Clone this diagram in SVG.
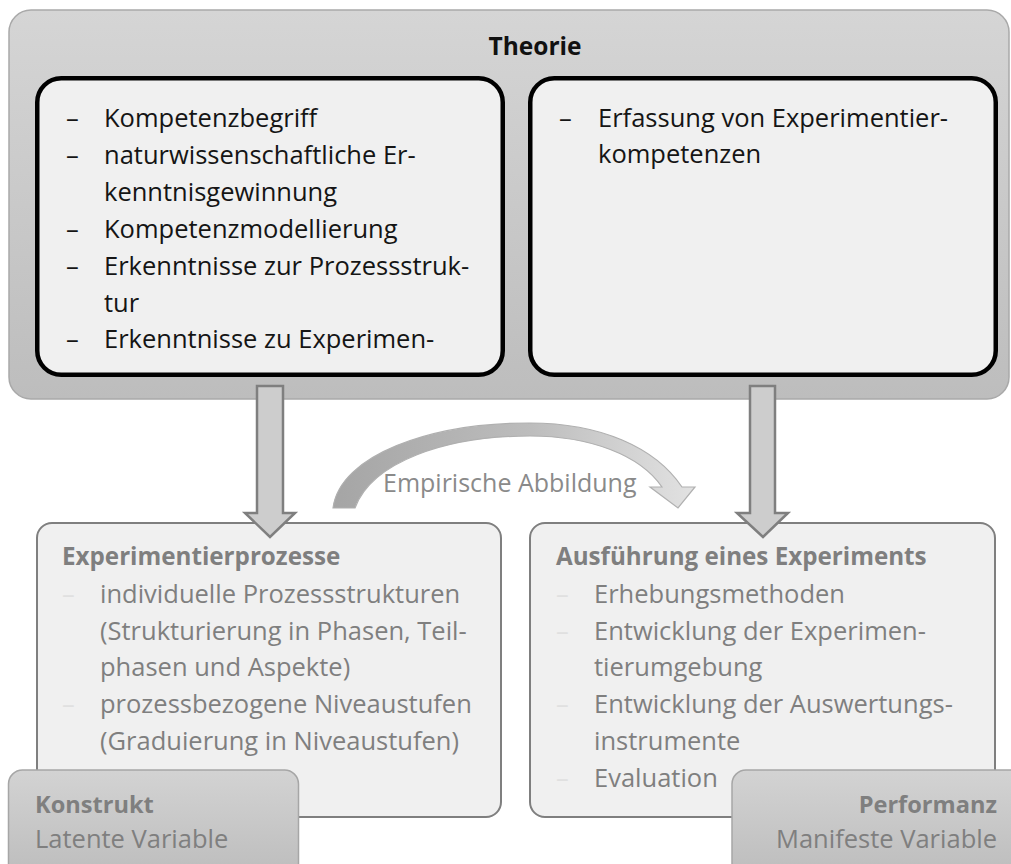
<svg xmlns="http://www.w3.org/2000/svg" width="1011" height="864" viewBox="0 0 1011 864">
  <defs>
    <linearGradient id="gPanel" x1="0" y1="0" x2="0" y2="1">
      <stop offset="0" stop-color="#d5d5d5"/>
      <stop offset="1" stop-color="#bdbdbd"/>
    </linearGradient>
    <linearGradient id="gTag" x1="0" y1="0" x2="0" y2="1">
      <stop offset="0" stop-color="#d3d3d3"/>
      <stop offset="1" stop-color="#bcbcbc"/>
    </linearGradient>
    <linearGradient id="gCurve" x1="333" y1="0" x2="695" y2="0" gradientUnits="userSpaceOnUse">
      <stop offset="0" stop-color="#a5a5a5"/>
      <stop offset="0.55" stop-color="#bdbdbd"/>
      <stop offset="1" stop-color="#e2e2e2"/>
    </linearGradient>
  </defs>
  <style>
    text { font-family: "Open Sans", "Noto Sans", "Liberation Sans", sans-serif; }
    .title { font-size: 24.5px; font-weight: bold; fill: #111; }
    .item { font-size: 25.5px; fill: #151515; }
    .dash { font-size: 25.5px; fill: #151515; }
    .head { font-size: 24.2px; font-weight: bold; fill: #7f7f7f; }
    .thead { font-size: 23.6px; font-weight: bold; fill: #7f7f7f; }
    .gitem { font-size: 25.5px; fill: #7f7f7f; }
    .gdash { font-size: 25.5px; fill: #e0e0e0; }
    .panel { fill: url(#gPanel); stroke: #a9a9a9; stroke-width: 1.5; }
    .inner { fill: #f0f0f0; stroke: #000; stroke-width: 4.5; }
    .box { fill: #f0f0f0; stroke: #7f7f7f; stroke-width: 2; }
    .tag { fill: url(#gTag); stroke: #a6a6a6; stroke-width: 1.5; }
    .arrow { fill: #cdcdcd; stroke: #7f7f7f; stroke-width: 2.5; stroke-linejoin: miter; }
    .curve { fill: url(#gCurve); stroke: #b0b0b0; stroke-width: 1.2; }
    .clabel { font-size: 25px; fill: #8a8a8a; }
  </style>

  <!-- Theory panel with two content cards -->
  <g id="theorie">
    <rect class="panel" x="9" y="10" width="1000" height="389" rx="22"/>
    <text class="title" x="535" y="55" text-anchor="middle">Theorie</text>
  </g>

  <g id="theorie-links">
    <rect class="inner" x="37.25" y="78.25" width="465.5" height="296.5" rx="24"/>
    <text class="dash" x="66" y="127">–</text>
    <text class="item" x="104" y="127">Kompetenzbegriff</text>
    <text class="dash" x="66" y="164">–</text>
    <text class="item" x="104" y="164">naturwissenschaftliche Er-</text>
    <text class="item" x="104" y="201">kenntnisgewinnung</text>
    <text class="dash" x="66" y="238">–</text>
    <text class="item" x="104" y="238">Kompetenzmodellierung</text>
    <text class="dash" x="66" y="275">–</text>
    <text class="item" x="104" y="275">Erkenntnisse zur Prozessstruk-</text>
    <text class="item" x="104" y="312">tur</text>
    <text class="dash" x="66" y="348">–</text>
    <text class="item" x="104" y="348">Erkenntnisse zu Experimen-</text>
  </g>

  <g id="theorie-rechts">
    <rect class="inner" x="530.25" y="78.25" width="465.5" height="296.5" rx="24"/>
    <text class="dash" x="559" y="127">–</text>
    <text class="item" x="598" y="127">Erfassung von Experimentier-</text>
    <text class="item" x="598" y="163">kompetenzen</text>
  </g>

  <!-- Lower boxes -->
  <g id="experimentierprozesse">
    <rect class="box" x="37" y="523" width="464" height="294" rx="15"/>
    <text class="head" x="62" y="565">Experimentierprozesse</text>
    <text class="gdash" x="62" y="603">–</text>
    <text class="gitem" x="100" y="603">individuelle Prozessstrukturen</text>
    <text class="gitem" x="100" y="640">(Strukturierung in Phasen, Teil-</text>
    <text class="gitem" x="100" y="676">phasen und Aspekte)</text>
    <text class="gdash" x="62" y="713">–</text>
    <text class="gitem" x="100" y="713">prozessbezogene Niveaustufen</text>
    <text class="gitem" x="100" y="750">(Graduierung in Niveaustufen)</text>
  </g>

  <g id="ausfuehrung">
    <rect class="box" x="530" y="523" width="465" height="294" rx="15"/>
    <text class="head" x="556" y="565">Ausführung eines Experiments</text>
    <text class="gdash" x="556" y="603">–</text>
    <text class="gitem" x="594" y="603">Erhebungsmethoden</text>
    <text class="gdash" x="556" y="640">–</text>
    <text class="gitem" x="594" y="640">Entwicklung der Experimen-</text>
    <text class="gitem" x="594" y="676">tierumgebung</text>
    <text class="gdash" x="556" y="713">–</text>
    <text class="gitem" x="594" y="713">Entwicklung der Auswertungs-</text>
    <text class="gitem" x="594" y="750">instrumente</text>
    <text class="gdash" x="556" y="787">–</text>
    <text class="gitem" x="594" y="787">Evaluation</text>
  </g>

  <!-- Corner tags -->
  <g id="konstrukt">
    <rect class="tag" x="8.5" y="770" width="290" height="110" rx="14"/>
    <text class="thead" x="35" y="813">Konstrukt</text>
    <text class="gitem" x="35" y="848">Latente Variable</text>
  </g>

  <g id="performanz">
    <rect class="tag" x="732" y="770" width="300" height="110" rx="14"/>
    <text class="thead" x="997" y="813" text-anchor="end">Performanz</text>
    <text class="gitem" x="997" y="848" text-anchor="end">Manifeste Variable</text>
  </g>

  <!-- Connectors -->
  <g id="connectors">
    <path class="arrow" d="M257,386 L283,386 L283,513 L295,513 L270,537 L245,513 L257,513 Z"/>
    <path class="arrow" d="M750,386 L775,386 L775,513 L788,513 L763,537 L737,513 L750,513 Z"/>
    <path class="curve" d="M333,508 C340,455 430,423 530,423 C600,423 655,447 682,487 L695,487 L678,508 L650,487 L662,487 C640,455 590,436 530,436 C445,436 372,462 355,508 Z"/>
    <text class="clabel" x="383" y="492">Empirische Abbildung</text>
  </g>
</svg>
